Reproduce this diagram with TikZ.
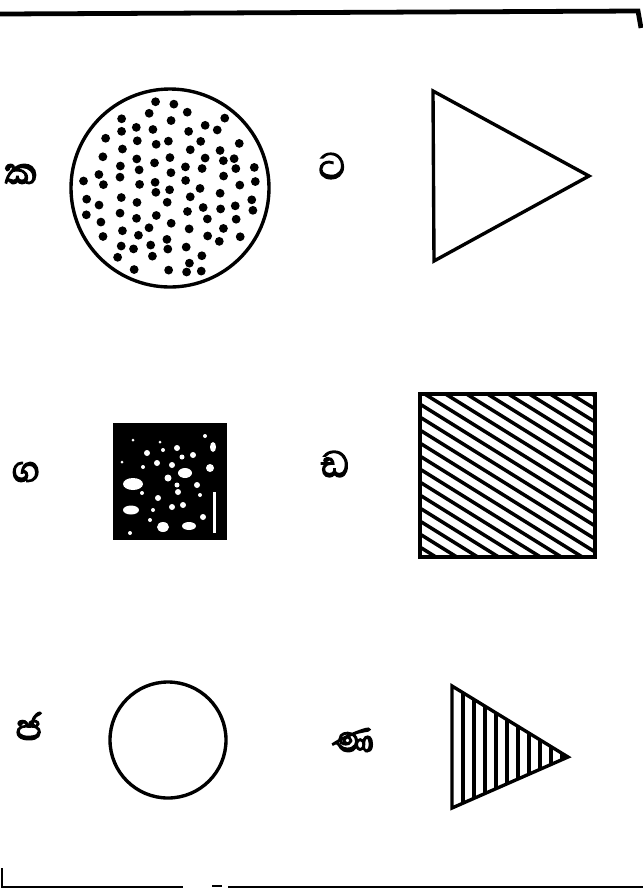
\documentclass[tikz,border=0pt]{standalone}
\usepackage{fontspec}
\newfontfamily\sinhfont[Script=Sinhala, FakeBold=3.5]{Abhaya Libre}
\usetikzlibrary{calc}

\begin{document}
\begin{tikzpicture}[x=0.025cm, y=-0.025cm,
  outl/.style={draw, line width=2.4pt},
  hatch/.style={line width=2.5pt},
  lbl/.style={font=\sinhfont\fontsize{33}{33}\selectfont, inner sep=0pt},
  frame/.style={line width=1.6pt},
]
\useasboundingbox (0,0) rectangle (643,890);

% page rules
\draw[frame, line width=3.4pt] (0,14) -- (638,11) -- (641,28);
\draw[frame] (2,868) -- (2,887) -- (183,887);
\draw[frame] (212,886) -- (222,886);
\draw[frame] (228,887) -- (643,887);

% labels
\node[lbl] (la) at (21,174) {ක};
\node[lbl] (lb) at (332,166) {ට};
\node[lbl] (lc) at (26,472) {ග};
\node[lbl] (ld) at (335,464) {ඩ};
\node[lbl] (le) at (29,726) {ජ};
\node[lbl] (lf) at (353,740) {ණ};

% dotted circle
\coordinate (dc) at (170,188);
\draw[outl] (dc) circle[radius=99];
\pgfmathsetseed{11}
\foreach \i in {-5,...,5}
  \foreach \j in {-6,...,6} {
    \pgfmathsetmacro\dx{\i*17+4*rand}
    \pgfmathsetmacro\dy{\j*16+mod(abs(\i),2)*8+4*rand}
    \pgfmathparse{veclen(\dx,\dy)<89 ? 1 : 0}
    \ifdim\pgfmathresult pt>0.5pt
      \fill ($(dc)+(\dx,\dy)$) circle[radius=4.4];
    \fi
  }

% big triangle
\coordinate (ta) at (433,91);
\coordinate (tb) at (434,261);
\coordinate (tc) at (589,176);
\draw[outl, line join=miter] (ta) -- (tb) -- (tc) -- cycle;

% dark square with white spots
\fill (113,423) rectangle (227,540);
\foreach \x/\y/\rx/\ry in {133/484/10/6, 131/510/8/4.5, 185/473/7/5, 189/526/7/4,
    163/527/6/5, 213/447/3/5, 210/468/4/4, 177/448/3/3, 163/450/2/2,
    147/453/3/3, 157/463/3/3, 172/465/3/3, 193/455/3/3, 168/478/3.5/3.5,
    142/493/2/2, 158/498/3/3, 178/492/3/3, 197/485/3/3, 200/495/2/2,
    172/507/3/3, 183/505/3/3, 153/510/2/2, 203/517/3/3, 143/467/2/2,
    133/440/1.5/1.5, 160/442/1.5/1.5, 182/457/2.5/2.5, 150/520/2/2,
    130/533/2/2, 177/485/2.5/2.5, 122/462/1.5/1.5, 205/436/2/2}
  \fill[white] (\x,\y) ellipse[x radius=\rx, y radius=\ry];
\fill[white] (213,492) rectangle (215.5,533);

% hatched square
\draw[outl] (420,394) rectangle (595,557);
\begin{scope}
  \clip (420,394) rectangle (595,557);
  \foreach \c in {284,297,...,560}
    \draw[hatch] (415,\c) -- (600,\c+115);
\end{scope}

% plain circle
\coordinate (pc) at (168,740);
\draw[outl] (pc) circle[radius=58];

% small hatched triangle
\coordinate (sa) at (452,686);
\coordinate (sb) at (452,808);
\coordinate (sc) at (568,757);
\begin{scope}
  \clip (sa) -- (sb) -- (sc) -- cycle;
  \foreach \x in {463,474,...,570}
    \draw[hatch] (\x,680) -- (\x,815);
\end{scope}
\draw[outl, line join=miter] (sa) -- (sb) -- (sc) -- cycle;
\end{tikzpicture}
\end{document}
